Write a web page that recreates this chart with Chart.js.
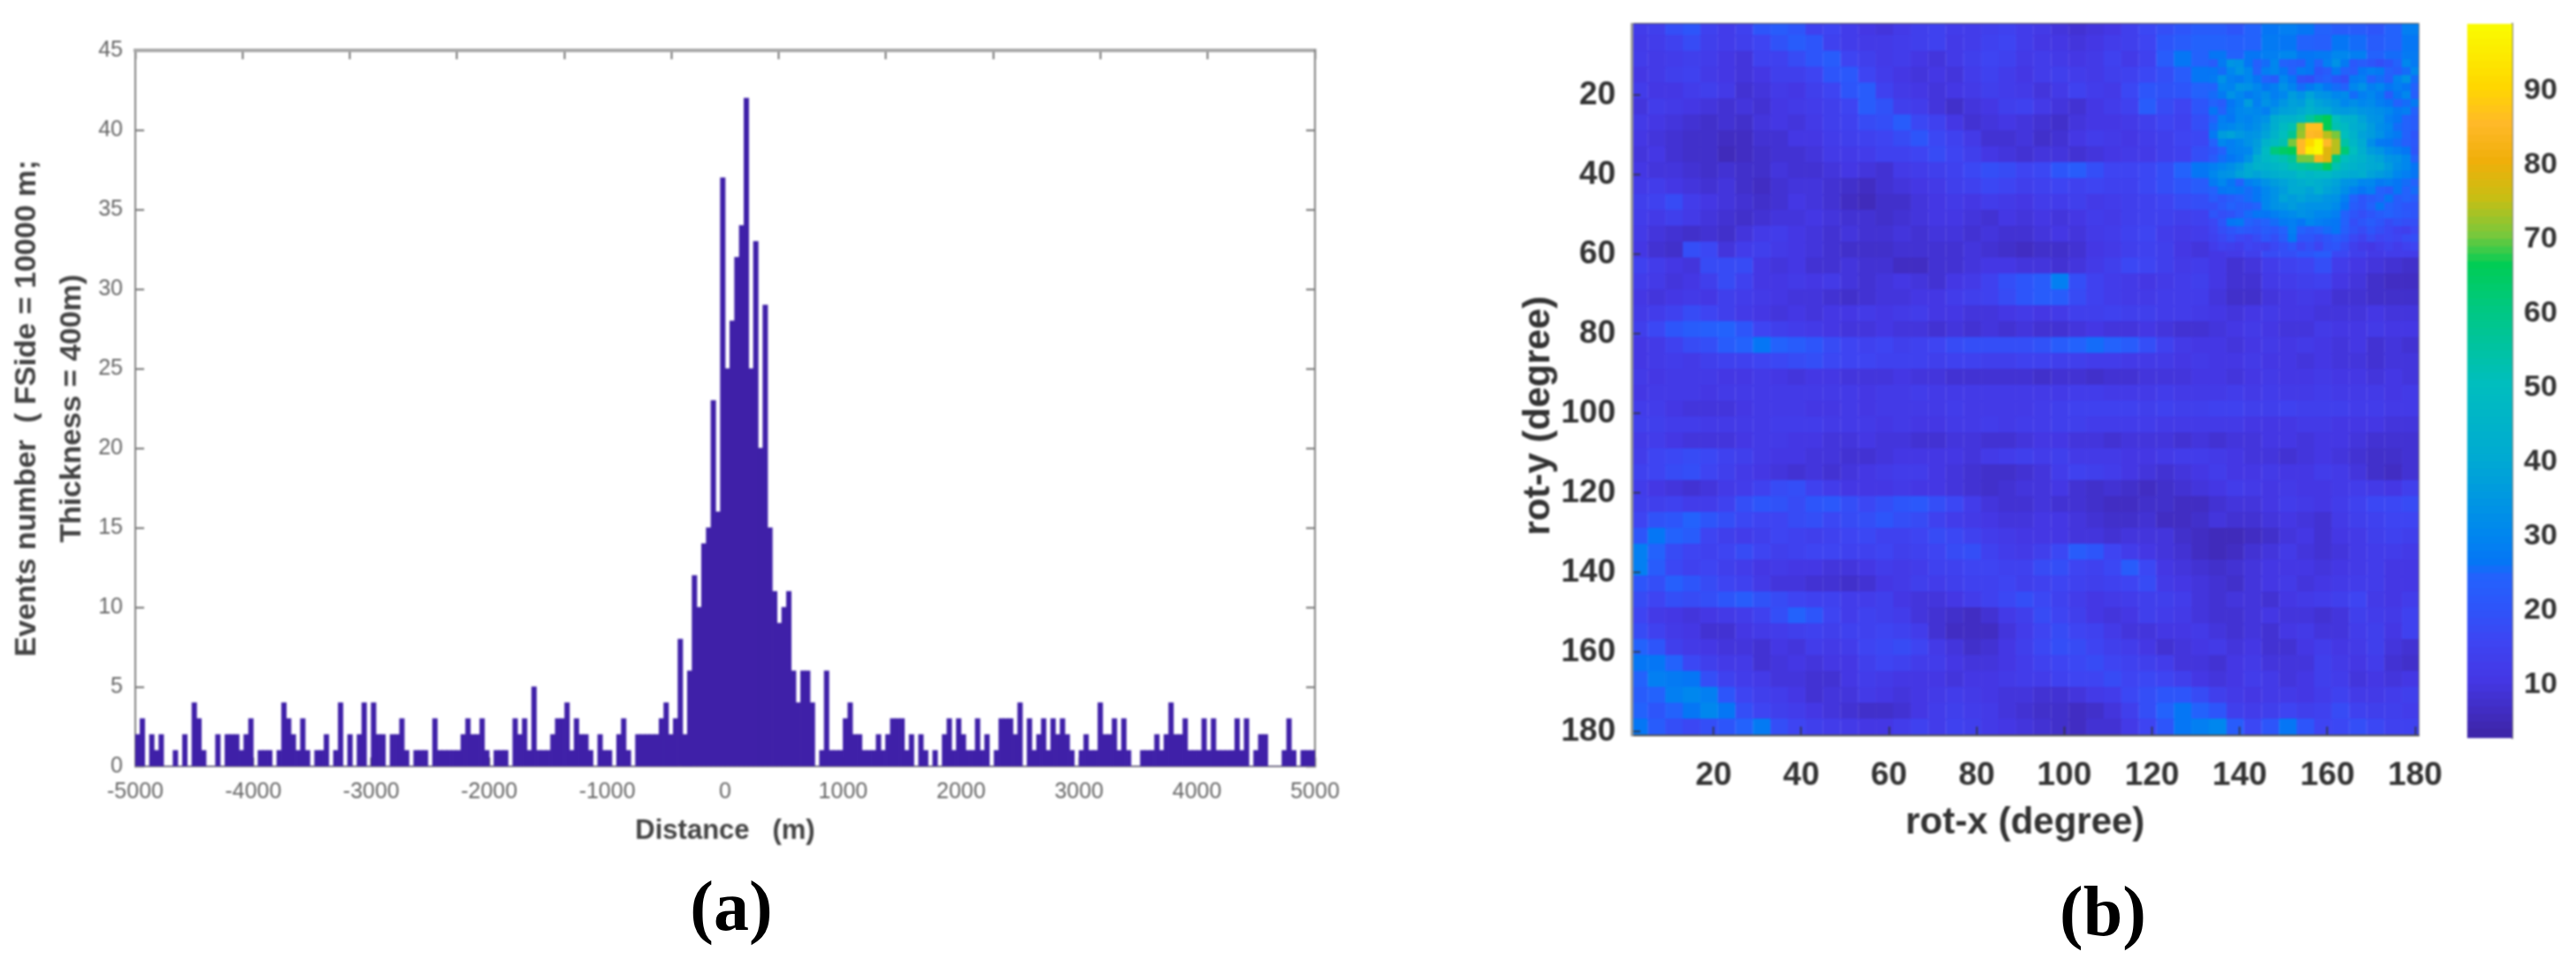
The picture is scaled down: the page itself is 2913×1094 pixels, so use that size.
<!DOCTYPE html>
<html>
<head>
<meta charset="utf-8">
<title>Distance histogram and rotation map</title>
<script src="https://cdn.jsdelivr.net/npm/chart.js@4"></script>
<style>
  html, body { margin: 0; padding: 0; background: #fff; width: 2913px; height: 1094px; overflow: hidden; }
  canvas { position: absolute; filter: blur(0.8px); }
  .cap { position: absolute; font: bold 80px "Liberation Serif", serif; color: #000; transform: translateX(-50%); line-height: 1; filter: blur(0.5px); }
</style>
</head>
<body>
<canvas id="hist" style="left:0;top:0" width="1600" height="959"></canvas>
<canvas id="heat" style="left:1660px;top:0" width="1120" height="957"></canvas>
<canvas id="bar" style="left:2770px;top:0" width="143" height="850"></canvas>
<div class="cap" style="left:827px;top:985px">(a)</div>
<div class="cap" style="left:2378px;top:991px">(b)</div>
<script>
// panel (a): events per 40 m bin, -5000 m to 5000 m
const binStart = -5000;
const binWidth = 40;
const eventCounts = [
  2,3,0,2,1,2,0,0,1,0,2,0,4,3,1,0,0,2,0,2,2,2,1,2,3,0,1,1,1,0,1,4,3,2,1,3,1,0,1,1,
  2,0,1,4,0,2,0,2,4,0,4,2,2,0,2,2,3,1,0,1,1,1,0,3,1,1,1,1,1,2,3,2,2,3,1,0,1,1,1,0,
  3,2,3,1,5,1,1,1,2,3,3,4,1,3,2,2,1,0,2,1,1,0,2,3,1,0,2,2,2,2,2,3,4,2,3,8,2,6,12,10,
  14,15,23,16,37,25,28,32,34,42,25,33,20,29,15,11,9,10,11,6,4,6,6,4,0,1,6,1,1,1,3,4,2,2,1,1,1,2,1,2,
  3,3,3,1,2,0,2,1,0,1,0,2,3,1,3,2,1,1,3,1,2,0,1,3,3,3,2,4,0,3,1,2,3,1,3,2,3,2,1,0,
  1,2,1,1,4,2,2,3,1,3,1,0,0,1,1,1,2,1,2,4,2,2,3,1,1,1,3,1,3,1,1,1,1,3,1,3,0,1,2,2,
  0,0,0,1,3,1,0,1,1,1
];
const distanceTicks = [-5000,-4000,-3000,-2000,-1000,0,1000,2000,3000,4000,5000];
const countTicks = [0,5,10,15,20,25,30,35,40,45];

// panel (b): response map, coarse cells of 4 degrees, rows from rot-y 1 down
const heatRows = [
  [12,13,18,20,14,12,14,20,22,20,14,15,12,10,9,11,13,14,12,12,13,14,12,11,9,8,9,10,13,16,18,20,22,22,20,24,26,28,26,24,22,22,20,24,28],
  [11,12,14,17,13,12,13,15,19,22,20,14,12,11,11,12,13,14,11,12,14,15,12,10,10,9,10,12,13,15,20,22,24,24,23,24,27,26,24,23,26,25,22,24,26],
  [12,11,12,13,12,10,9,14,14,17,20,22,15,13,11,12,10,9,11,13,15,14,11,12,11,10,11,14,11,14,22,26,24,26,24,26,28,30,26,27,30,28,24,25,27],
  [10,11,13,14,11,10,9,10,13,13,15,20,21,15,12,10,9,10,9,12,14,12,10,12,13,12,11,13,14,16,18,22,26,24,27,27,30,28,32,30,27,25,24,24,26],
  [12,10,10,12,13,11,8,9,11,10,13,15,20,22,14,11,10,9,10,11,13,12,11,9,11,14,12,11,16,20,19,20,24,26,30,30,32,34,36,32,30,27,26,27,25],
  [9,12,11,10,9,8,9,8,10,11,12,13,15,22,19,13,12,9,7,9,10,13,14,11,9,8,10,12,14,22,17,15,20,26,30,32,36,38,40,34,30,30,28,26,24],
  [11,10,9,8,7,8,7,9,10,9,11,13,14,17,18,22,16,14,10,8,9,10,9,8,7,9,10,10,11,13,15,14,18,22,28,34,40,48,60,46,36,32,28,26,24],
  [10,9,8,7,7,6,6,8,8,10,10,12,13,14,15,17,20,16,14,11,8,8,9,7,8,10,12,11,10,12,13,15,16,22,30,36,44,56,80,60,40,32,28,26,23],
  [9,10,8,7,7,5,6,7,8,8,9,11,11,12,14,14,15,17,15,13,10,9,8,9,9,8,9,10,11,11,13,14,18,24,28,32,46,60,90,60,38,30,28,24,22],
  [10,9,9,8,7,8,7,7,9,8,8,9,10,9,8,11,12,13,14,16,18,17,15,16,20,22,18,15,15,16,18,24,26,30,33,38,42,46,50,46,40,34,30,28,24],
  [11,12,10,9,8,9,7,6,8,9,9,8,7,6,8,9,10,11,13,14,16,15,13,14,15,14,15,14,14,16,18,20,22,26,30,33,36,38,42,40,36,30,26,24,22],
  [13,14,17,12,10,9,8,7,8,10,9,8,6,5,7,7,9,10,11,10,12,11,10,12,12,13,11,12,13,14,15,17,18,22,28,30,32,34,36,34,30,26,24,26,24],
  [12,11,13,11,9,8,7,8,9,9,10,9,8,8,7,8,9,10,10,9,8,10,9,10,9,10,12,11,13,14,14,13,14,16,22,26,28,30,34,30,26,22,22,24,20],
  [11,9,8,7,8,7,9,11,12,10,9,8,9,8,8,9,8,9,9,8,9,8,8,9,10,9,11,12,14,15,12,11,12,13,16,20,24,26,30,26,22,18,16,14,13],
  [10,8,7,18,16,9,12,13,11,10,9,8,7,7,7,8,8,8,8,9,8,7,6,7,7,8,10,11,13,14,13,10,9,10,11,13,17,18,20,22,16,13,11,12,12],
  [14,12,10,9,17,17,17,10,9,10,8,8,9,8,8,6,6,8,8,9,10,10,9,9,8,9,11,13,16,15,13,11,12,10,8,9,12,14,15,18,12,10,9,8,7],
  [12,11,9,10,13,17,14,10,10,11,10,11,9,8,9,10,9,8,10,11,14,18,20,22,28,18,14,12,11,10,11,12,13,10,8,8,11,12,13,14,10,9,7,6,6],
  [10,9,10,11,10,13,12,11,10,9,9,8,7,8,9,9,10,10,12,13,14,17,20,22,22,17,14,12,11,11,12,12,12,9,7,7,9,10,11,10,8,8,7,7,7],
  [11,12,14,17,15,13,11,10,9,10,9,10,10,11,10,11,12,10,10,9,9,10,11,10,11,13,13,14,13,13,12,12,11,10,9,10,11,10,10,9,9,9,10,9,9],
  [13,16,20,22,23,24,20,15,13,12,11,10,9,9,10,9,9,8,9,8,9,8,9,8,8,9,10,9,9,10,9,8,8,9,10,11,10,9,9,11,10,10,11,10,10],
  [10,11,14,17,18,22,24,26,24,22,20,17,15,14,15,13,14,15,17,18,18,18,18,19,22,24,25,24,22,18,14,11,10,10,9,10,11,10,11,10,9,10,8,9,8],
  [10,11,12,11,13,14,14,15,16,17,18,16,15,15,14,14,14,13,14,14,13,13,14,14,13,13,12,12,11,11,11,10,11,10,10,11,10,10,9,10,9,9,8,9,9],
  [11,10,11,11,11,10,10,11,10,9,10,10,9,9,9,10,9,9,8,8,8,8,8,7,8,8,7,8,8,9,9,9,10,10,9,10,11,10,10,11,10,10,9,10,9],
  [10,11,11,11,10,11,11,11,11,11,11,11,11,10,11,11,12,11,11,11,11,11,11,11,11,12,12,11,11,11,12,11,11,11,12,11,12,11,11,12,11,11,11,10,11],
  [12,12,10,9,9,9,10,11,11,11,10,10,11,10,11,11,11,11,12,11,11,11,11,12,13,14,14,14,14,13,14,13,13,14,14,13,13,14,13,13,13,12,12,11,11],
  [13,13,12,12,11,11,11,11,12,12,12,11,11,11,10,11,10,10,11,11,12,11,12,12,13,13,12,12,12,12,11,11,11,11,11,10,10,10,11,11,10,10,10,9,9],
  [11,12,10,9,9,9,10,11,11,10,10,9,9,10,9,9,8,8,9,9,8,8,9,10,10,9,9,8,9,9,9,8,9,8,9,9,10,10,9,10,10,9,8,8,8],
  [12,15,16,17,16,14,13,11,10,10,9,9,8,8,9,10,10,10,10,9,11,12,13,12,13,11,11,11,10,10,11,12,12,11,10,9,9,8,9,10,9,8,7,7,8],
  [14,15,17,18,15,13,11,10,9,8,9,8,9,10,11,12,12,10,9,8,7,7,8,9,12,14,13,12,10,9,8,9,10,12,10,10,11,10,10,12,11,9,7,6,8],
  [12,10,9,8,9,11,12,14,17,18,14,12,10,10,10,11,10,10,9,8,7,8,9,9,10,8,7,8,7,6,7,8,9,10,12,11,10,11,10,10,11,12,11,10,13],
  [13,13,14,12,12,14,18,20,19,17,20,21,18,16,18,20,21,18,16,12,9,8,8,9,8,8,7,6,6,7,7,6,6,8,9,9,10,12,11,10,12,14,16,16,17],
  [15,19,20,24,20,18,16,15,15,17,18,16,17,18,20,18,17,14,12,11,10,9,9,10,10,9,8,7,7,8,6,6,7,9,8,8,9,10,9,8,11,13,14,15,15],
  [20,26,24,22,15,13,12,13,15,14,13,14,15,16,14,14,15,17,16,14,12,11,10,10,10,9,9,8,9,9,9,7,6,5,5,6,7,9,10,8,10,11,13,14,13],
  [28,24,17,15,14,15,17,15,13,14,15,15,14,14,15,13,14,15,17,18,14,12,11,13,16,22,20,15,12,10,9,8,6,5,6,8,9,11,9,8,9,11,12,12,11],
  [28,22,16,14,15,13,12,10,11,10,10,9,9,10,12,11,12,14,14,15,15,14,14,17,18,15,14,16,22,16,10,9,8,7,8,9,10,10,10,9,10,11,12,10,10],
  [20,18,23,20,17,15,14,11,9,9,8,8,7,8,10,11,13,12,13,14,14,15,13,14,15,14,13,14,15,17,11,10,9,8,7,9,10,11,9,10,11,12,12,10,10],
  [17,15,18,17,18,20,22,19,17,15,14,14,12,12,13,10,9,9,10,12,14,16,18,16,14,12,10,11,12,13,13,12,9,8,9,9,8,10,11,12,13,15,11,10,12],
  [15,11,10,9,10,11,12,14,18,24,20,15,12,14,13,12,9,8,7,6,8,11,13,17,15,13,10,9,10,13,12,11,9,8,8,9,10,9,9,8,9,13,12,11,14],
  [17,14,11,10,8,8,10,11,12,13,14,13,14,14,15,14,12,8,6,6,6,9,12,15,17,15,14,11,9,9,10,10,11,9,8,9,8,10,11,9,9,12,13,10,14],
  [24,20,13,11,10,9,9,8,10,9,12,11,12,15,16,17,15,11,9,7,8,10,13,16,18,17,15,13,12,10,8,9,10,11,9,10,8,8,10,12,10,11,13,9,8],
  [26,26,24,16,13,11,11,8,9,10,9,10,10,13,15,14,12,12,10,9,9,10,12,14,15,16,17,15,14,13,12,9,9,8,10,11,9,9,9,13,11,10,12,8,7],
  [24,28,27,26,18,14,12,11,9,9,8,8,10,12,11,10,10,10,9,10,10,11,12,12,14,15,15,17,15,16,15,13,10,9,10,12,11,9,10,13,12,9,10,9,10],
  [22,24,28,30,28,20,15,13,12,10,8,9,9,11,10,9,10,11,12,11,10,9,9,8,8,9,11,12,16,18,20,20,17,13,11,10,11,11,10,12,14,11,11,12,13],
  [24,20,24,26,30,26,18,15,13,12,10,9,8,7,7,8,10,12,13,12,11,9,8,7,7,6,7,9,13,18,24,26,24,20,13,12,13,15,13,14,17,14,13,13,12],
  [26,22,18,16,18,20,24,27,18,15,13,12,11,10,10,12,14,12,14,13,11,10,9,8,7,6,8,8,11,15,20,26,28,30,22,16,20,26,20,15,16,18,16,14,14]
];
// fine cells of 2 degrees around the peak, rot-x 133 to 179, rot-y 11 to 57
const peakRows = [
  [22,27,34,33,26,23,25,30,24,23,22,26,24,28,33,27,21,22,20,18,20,24,30,27],
  [26,25,30,34,30,24,28,30,26,24,27,26,20,22,27,24,22,26,28,27,24,22,25,30],
  [27,33,28,27,30,26,24,22,30,26,19,18,22,24,20,18,27,28,24,25,23,29,33,25],
  [24,30,29,34,33,30,26,28,33,29,25,27,30,26,25,24,30,33,28,30,26,28,26,24],
  [25,27,33,30,27,29,32,28,30,36,33,38,34,33,30,31,25,28,30,27,22,26,30,23],
  [24,22,26,29,36,28,33,30,34,37,36,42,38,36,34,30,32,30,31,28,26,24,25,27],
  [26,24,27,30,31,30,28,34,37,38,40,44,41,40,36,35,36,34,33,32,30,27,28,24],
  [24,28,26,30,29,31,33,41,44,44,47,55,62,66,50,44,43,38,34,33,28,26,24,22],
  [25,29,30,32,30,32,36,42,48,52,71,86,86,66,52,48,42,40,36,32,30,25,24,22],
  [27,36,38,35,33,34,38,44,50,57,72,85,84,74,70,50,44,38,36,33,29,27,24,20],
  [24,30,28,30,33,36,44,48,52,70,85,90,97,85,74,54,46,40,32,27,26,25,23,21],
  [20,24,28,29,30,37,48,61,64,66,85,95,98,78,74,62,50,42,36,34,30,28,26,20],
  [22,25,26,28,33,42,47,50,52,56,70,70,83,78,60,50,46,44,40,38,34,33,30,24],
  [28,30,32,35,40,44,44,46,48,52,54,56,58,65,52,46,44,42,40,40,36,32,30,26],
  [30,33,34,38,40,38,40,42,44,44,48,46,48,48,44,42,40,42,38,36,34,30,28,26],
  [27,30,26,24,28,30,33,36,38,40,42,44,42,40,38,34,33,30,30,27,28,26,25,24],
  [24,26,27,26,25,26,30,33,36,40,40,38,42,38,36,32,28,26,28,24,22,26,24,25],
  [22,20,22,24,25,26,30,33,38,36,38,36,36,34,33,28,24,20,22,24,26,22,24,22],
  [18,21,24,22,22,24,30,33,34,36,34,33,33,33,31,26,22,20,24,26,24,22,20,20],
  [20,18,19,22,25,26,26,28,30,31,33,32,30,30,28,24,20,18,20,22,24,22,21,20],
  [16,20,26,27,24,22,24,25,27,28,26,30,28,27,26,24,18,20,22,20,17,19,18,18],
  [15,18,20,22,21,20,22,21,24,28,24,22,24,25,26,23,19,17,20,18,16,14,13,16],
  [14,16,18,16,15,17,20,18,22,27,20,20,18,20,22,20,16,14,17,15,16,15,17,18],
  [12,14,13,12,15,14,13,16,18,20,16,18,15,19,20,17,13,11,10,12,14,12,14,15]
];
const rotTicks = [20,40,60,80,100,120,140,160,180];
const colorbarTicks = [10,20,30,40,50,60,70,80,90];
const colorbarLevels = [3,4,5,6,7,8,9,10,11,12,13,14,15,16,17,18,19,20,21,22,23,24,25,26,27,28,29,30,31,32,33,34,35,36,37,38,39,40,41,42,43,44,45,46,47,48,49,50,51,52,53,54,55,56,57,58,59,60,61,62,63,64,65,66,67,68,69,70,71,72,73,74,75,76,77,78,79,80,81,82,83,84,85,86,87,88,89,90,91,92,93,94,95,96,97,98];

// colour ramp
const rampValues = [3, 10, 15, 20, 24, 26, 30, 40, 50, 60, 66, 70, 75, 80, 85, 90, 98];
const rampColors = [[62,38,170],[68,55,228],[62,68,242],[45,85,250],[35,98,252],[5,118,245],[0,135,238],[0,170,210],[0,190,190],[0,200,130],[0,205,85],[120,200,60],[200,190,20],[240,175,10],[255,185,40],[255,215,0],[250,250,0]];

function rampColor(v) {
  let i = 0;
  while (i < rampValues.length - 2 && v > rampValues[i + 1]) i++;
  const t = Math.min(1, Math.max(0, (v - rampValues[i]) / (rampValues[i + 1] - rampValues[i])));
  const c = rampColors[i].map((a, k) => Math.round(a + (rampColors[i + 1][k] - a) * t));
  return 'rgb(' + c.join(',') + ')';
}

Chart.defaults.animation = false;
Chart.defaults.events = [];
Chart.defaults.responsive = false;
Chart.defaults.plugins.legend.display = false;
Chart.defaults.plugins.tooltip.enabled = false;
Chart.defaults.font.family = '"Liberation Sans", Arial, sans-serif';

function fixedTicks(list) {
  return scale => { scale.ticks = list.map(v => ({ value: v })); };
}
function plainLabel(v) { return String(v); }
function inwardGrid(len, color, width) {
  return { drawOnChartArea: false, drawTicks: true, tickLength: -len, tickColor: color, tickWidth: width };
}
// pin the scale box so the plot area lands where the layout padding says
function fitBox(prop, size) {
  return s => {
    s[prop] = size;
    s.paddingTop = s.paddingBottom = s.paddingLeft = s.paddingRight = 0;
  };
}
// axis that only draws its line and inner tick marks, used for the closed box
function boxAxis(position, min, max, list, lineColor, lineWidth, reverse) {
  return {
    type: 'linear', position, min, max, reverse: !!reverse,
    afterBuildTicks: fixedTicks(list),
    afterFit: fitBox(position === 'top' ? 'height' : 'width', 0),
    border: { display: true, color: lineColor, width: lineWidth },
    grid: inwardGrid(10, '#444', 1.5),
    ticks: { display: false }
  };
}

new Chart(document.getElementById('hist'), {
  type: 'bar',
  data: {
    datasets: [{
      data: eventCounts.map((n, i) => ({ x: binStart + binWidth * (i + 0.5), y: n })),
      backgroundColor: '#3f20a8',
      borderWidth: 0,
      categoryPercentage: 1,
      barPercentage: 1,
      grouped: false
    }]
  },
  options: {
    layout: { padding: { left: 0, top: 57, right: 113, bottom: 0 } },
    scales: {
      x: {
        type: 'linear', min: -5000, max: 5000, offset: false,
        afterBuildTicks: fixedTicks(distanceTicks),
        afterFit: fitBox('height', 92),
        border: { color: '#808080', width: 2 },
        grid: Object.assign({ offset: false }, inwardGrid(10, '#444', 1.5)),
        ticks: { color: '#666', font: { size: 25 }, padding: 24, maxRotation: 0, autoSkip: false, callback: plainLabel },
        title: { display: true, text: 'Distance   (m)', color: '#444', font: { size: 31, weight: 'bold' }, padding: { top: 0, bottom: 0 } }
      },
      y: {
        type: 'linear', min: 0, max: 45,
        afterBuildTicks: fixedTicks(countTicks),
        afterFit: fitBox('width', 153),
        border: { color: '#808080', width: 2 },
        grid: inwardGrid(10, '#444', 1.5),
        ticks: { color: '#666', font: { size: 25 }, padding: 24, autoSkip: false, callback: plainLabel },
        title: {
          display: true, text: ['Events number  ( FSide = 10000 m;', 'Thickness = 400m)'], color: '#444',
          font: { size: 34, weight: 'bold', lineHeight: 51 / 34 }, padding: { top: 5, bottom: 0 }
        }
      },
      x2: boxAxis('top', -5000, 5000, distanceTicks, '#a8a8a8', 4),
      y2: boxAxis('right', 0, 45, countTicks, '#808080', 2)
    }
  }
});

const coarseCells = [];
heatRows.forEach((row, r) => row.forEach((v, c) => coarseCells.push({ x: 3 + 4 * c, y: 3 + 4 * r, v })));
const peakCells = [];
peakRows.forEach((row, r) => row.forEach((v, c) => peakCells.push({ x: 134 + 2 * c, y: 12 + 2 * r, v })));
const cellColor = ctx => rampColor(ctx.raw.v);

new Chart(document.getElementById('heat'), {
  type: 'scatter',
  data: {
    datasets: [
      // first dataset is painted last, so the fine cells sit on top
      { data: peakCells, pointStyle: 'rect', pointRadius: 7.1, pointBorderWidth: 0, pointBackgroundColor: cellColor, clip: 0 },
      { data: coarseCells, pointStyle: 'rect', pointRadius: 14.2, pointBorderWidth: 0, pointBackgroundColor: cellColor, clip: 0 }
    ]
  },
  options: {
    layout: { padding: { left: 0, top: 27, right: 45, bottom: 0 } },
    scales: {
      x: {
        type: 'linear', min: 1.3, max: 180.8,
        afterBuildTicks: fixedTicks(rotTicks),
        afterFit: fitBox('height', 125),
        border: { color: '#555', width: 2, z: 2 },
        grid: Object.assign({ z: 2 }, inwardGrid(10, '#333', 1.5)),
        ticks: { color: '#333', font: { size: 37, weight: 'bold' }, padding: 34, maxRotation: 0, autoSkip: false, callback: plainLabel },
        title: { display: true, text: 'rot-x (degree)', color: '#333', font: { size: 42, weight: 'bold' }, padding: { top: 0, bottom: 0 } }
      },
      y: {
        type: 'linear', min: 2, max: 181, reverse: true,
        afterBuildTicks: fixedTicks(rotTicks),
        afterFit: fitBox('width', 185),
        border: { color: '#999', width: 3, z: 2 },
        grid: Object.assign({ z: 2 }, inwardGrid(10, '#333', 1.5)),
        ticks: { color: '#333', font: { size: 37, weight: 'bold' }, padding: 28, autoSkip: false, callback: plainLabel },
        // trailing spaces push the centred title down, as in the reference
        title: { display: true, text: 'rot-y (degree)       ', color: '#333', font: { size: 42, weight: 'bold' }, padding: { top: 55, bottom: 0 } }
      },
      x2: boxAxis('top', 1.3, 180.8, rotTicks, '#555', 3),
      y2: boxAxis('right', 2, 181, rotTicks, '#777', 2, true)
    }
  }
});

new Chart(document.getElementById('bar'), {
  type: 'bar',
  data: {
    labels: [''],
    datasets: colorbarLevels.map(v => ({
      data: [[v - 0.2, v + 1]],
      backgroundColor: rampColor(v),
      borderWidth: 0,
      grouped: false,
      categoryPercentage: 1,
      barPercentage: 1
    }))
  },
  options: {
    layout: { padding: { left: 20, top: 27, right: 0, bottom: 15 } },
    scales: {
      x: { display: false },
      y: {
        type: 'linear', position: 'right', min: 2.8, max: 99,
        afterBuildTicks: fixedTicks(colorbarTicks),
        afterFit: fitBox('width', 72),
        border: { color: '#777', width: 2 },
        grid: inwardGrid(6, '#333', 1.5),
        ticks: { color: '#333', font: { size: 34, weight: 'bold' }, padding: 19, autoSkip: false, callback: plainLabel }
      }
    }
  }
});
</script>
</body>
</html>
